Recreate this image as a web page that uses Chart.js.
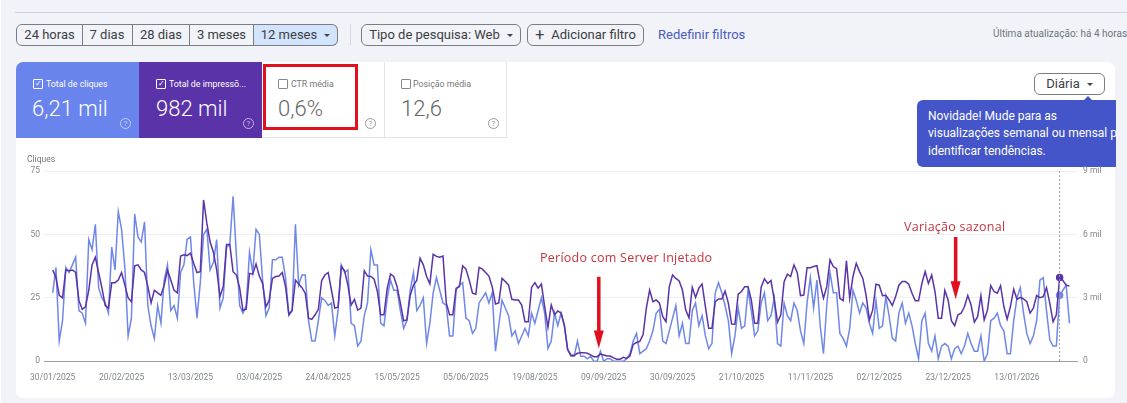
<!DOCTYPE html>
<html lang="pt-BR">
<head>
<meta charset="utf-8">
<title>Desempenho</title>
<script src="https://cdn.jsdelivr.net/npm/chart.js@4"></script>
<style>
  html, body { margin: 0; padding: 0; }
  body { width: 1127px; height: 403px; background: #f1f3f9; position: relative; overflow: hidden; font-family: Roboto, sans-serif; color: #3c4043; }
  .abs { position: absolute; white-space: nowrap; }
  .topline { left: 15px; right: 0; top: 12px; height: 1px; background: #cfd2d8; }
  .btn { top: 24px; height: 20px; line-height: 20px; border: 1px solid #7a7d82; text-align: center; font-size: 13px; box-sizing: content-box; }
  .caret { display: inline-block; width: 0; height: 0; border-left: 3px solid transparent; border-right: 3px solid transparent; border-top: 3px solid #444; margin-left: 7px; vertical-align: 2px; }
  .card { left: 16px; top: 62px; width: 1099px; height: 336px; background: #fff; border-radius: 7px; }
  .tab { top: 62px; width: 123px; height: 76px; box-sizing: border-box; }
  .tab-label { font-size: 8.8px; top: 79px; }
  .tab-value { font-size: 22px; top: 96px; font-weight: 300; }
  .box { top: 79px; width: 8px; height: 8px; border: 1px solid #888; border-radius: 1px; font-size: 8px; line-height: 8px; text-align: center; }
  .help { top: 118px; width: 9px; height: 9px; border: 1px solid #999; border-radius: 50%; font-size: 8px; line-height: 9px; text-align: center; color: #999; }
  .note { color: #c5343d; font-family: "Open Sans", sans-serif; font-size: 12.5px; letter-spacing: .25px; }
  .tip-line { font-size: 12px; color: #fff; line-height: 17px; }
  canvas { position: absolute; left: 16px; top: 150px; }
</style>
</head>
<body>
<div class="abs" style="left:0;top:0;width:1px;height:403px;background:#fff"></div>
<div class="abs topline"></div>

<div class="abs btn" style="left:16px;width:65px;border-radius:6px 0 0 6px">24 horas</div>
<div class="abs btn" style="left:82px;width:50px;border-left:0">7 dias</div>
<div class="abs btn" style="left:133px;width:56px;border-left:0">28 dias</div>
<div class="abs btn" style="left:190px;width:63px;border-left:0">3 meses</div>
<div class="abs btn" style="left:254px;width:83px;border-left:0;border-radius:0 6px 6px 0;background:#d2e3fc">12 meses<span class="caret"></span></div>
<div class="abs" style="left:350px;top:24px;width:1px;height:21px;background:#d5d7dc"></div>
<div class="abs btn" style="left:361px;width:158px;border-radius:6px">Tipo de pesquisa: Web<span class="caret"></span></div>
<div class="abs btn" style="left:527px;width:115px;border-radius:6px"><span style="font-size:16px;vertical-align:-1px;margin-right:7px">+</span>Adicionar filtro</div>
<div class="abs" style="left:658px;top:27px;font-size:13px;color:#4a5bc0">Redefinir filtros</div>
<div class="abs" style="left:993px;top:28px;font-size:10px;color:#70757a">Última atualização: há 4 horas</div>

<div class="abs card"></div>
<div class="abs tab" style="left:16px;background:#6a84ee;border-radius:7px 0 0 0"></div>
<div class="abs tab" style="left:139px;background:#5a33a9"></div>
<div class="abs tab" style="left:262px;border-right:1px solid #e3e4e8;border-bottom:1px solid #e3e4e8"></div>
<div class="abs tab" style="left:385px;width:122px;border-right:1px solid #e3e4e8;border-bottom:1px solid #e3e4e8"></div>

<div class="abs box" style="left:33px;color:#fff;border-color:#fff">✓</div>
<div class="abs tab-label" style="left:46px;color:#fff">Total de cliques</div>
<div class="abs tab-value" style="left:32px;color:#fff">6,21 mil</div>
<div class="abs help" style="left:120px;color:#c4cef7;border-color:#c4cef7">?</div>

<div class="abs box" style="left:156px;color:#fff;border-color:#fff">✓</div>
<div class="abs tab-label" style="left:169px;color:#fff">Total de impressõ...</div>
<div class="abs tab-value" style="left:156px;color:#fff">982 mil</div>
<div class="abs help" style="left:243px;color:#c4b4e6;border-color:#c4b4e6">?</div>

<div class="abs box" style="left:278px"></div>
<div class="abs tab-label" style="left:291px;color:#777">CTR média</div>
<div class="abs tab-value" style="left:278px;color:#666">0,6%</div>
<div class="abs help" style="left:365px">?</div>

<div class="abs box" style="left:401px"></div>
<div class="abs tab-label" style="left:413px;color:#777">Posição média</div>
<div class="abs tab-value" style="left:401px;color:#666">12,6</div>
<div class="abs help" style="left:488px">?</div>

<div class="abs" style="left:263px;top:64px;width:89px;height:60px;border:3px solid #e0101f"></div>

<div class="abs btn" style="left:1034px;top:73px;width:69px;border-radius:6px;background:#fff">Diária<span class="caret"></span></div>
<div class="abs" style="left:1084px;top:96px;width:0;height:0;border-left:4px solid transparent;border-right:4px solid transparent;border-bottom:4px solid #4355c8"></div>
<div class="abs" style="left:917px;top:100px;width:199px;height:67px;background:#4355c8;border-radius:6px 0 0 6px;overflow:hidden">
  <div class="abs tip-line" style="left:11px;top:8px">Novidade! Mude para as</div>
  <div class="abs tip-line" style="left:11px;top:25px">visualizações semanal ou mensal para</div>
  <div class="abs tip-line" style="left:11px;top:43px">identificar tendências.</div>
</div>

<canvas id="chart" width="1099" height="240" style="width:1099px;height:240px"></canvas>
<div class="abs" style="left:27px;top:154px;font-size:8.5px;color:#777">Cliques</div>
<div class="abs note" style="left:540px;top:249px">Período com Server Injetado</div>
<div class="abs note" style="left:904px;top:218px">Variação sazonal</div>

<script>
// x tick labels, one every 21 points (the dates jump between 05/06 and 19/08)
const tickLabels = ['30/01/2025', '20/02/2025', '13/03/2025', '03/04/2025', '24/04/2025', '15/05/2025', '05/06/2025',
  '19/08/2025', '09/09/2025', '30/09/2025', '21/10/2025', '11/11/2025', '02/12/2025', '23/12/2025', '13/01/2026'];
const tickEvery = 21;

const cliques = [
  27, 37, 8, 16, 37, 35, 38, 41, 20, 19, 15, 48, 44, 54, 29, 25, 23, 19, 45, 36,
  59, 52, 37, 10, 17, 58, 49, 47, 55, 22, 14, 9, 22, 15, 32, 38, 20, 22, 17, 35,
  38, 48, 49, 31, 17, 31, 50, 52, 36, 39, 48, 21, 25, 45, 46, 65, 42, 22, 19, 22,
  43, 35, 52, 50, 32, 18, 21, 40, 40, 41, 41, 33, 18, 20, 54, 30, 34, 34, 16, 8,
  8, 16, 25, 24, 22, 23, 10, 20, 38, 35, 36, 15, 14, 6, 8, 18, 23, 44, 38, 38,
  15, 14, 25, 32, 28, 28, 20, 13, 16, 28, 35, 20, 22, 25, 7, 15, 27, 33, 28, 23,
  22, 10, 10, 28, 30, 31, 17, 16, 11, 13, 23, 25, 27, 23, 27, 4, 14, 24, 21, 18,
  10, 12, 7, 10, 13, 10, 19, 15, 20, 25, 19, 5, 8, 19, 14, 19, 14, 4.5, 2, 2,
  8, 2, 2, 1, 2, 0, 0, 4, 0, 1, 1, 0, 0, 0, 0, 1, 3, 8, 11, 3,
  4, 5, 8, 12, 19, 20.5, 8, 7, 12, 17, 22, 10, 15, 7, 7, 20, 23, 14, 18, 10,
  5, 7, 27, 31, 27, 22, 16, 3, 10, 21, 13, 14, 28, 20, 10, 12, 23, 27, 16, 18,
  25, 7, 6, 23, 18, 16, 23, 20, 12, 7, 23, 33, 21, 32, 14, 3, 22, 35, 27, 27,
  11, 9, 6, 13, 28, 24, 19, 23, 21, 15, 11, 24, 13, 14, 25.5, 18, 9, 8, 19, 23,
  15, 19, 14, 7, 1, 16, 19, 7, 4, 10, 1, 6, 7, 6, 1, 5, 6, 3, 6, 11,
  7, 4, 4, 10, 0, 3, 16, 17, 19, 14, 12, 3, 3, 16, 25, 29, 19, 11, 7, 10,
  16, 32, 33, 20, 8.5, 6, 6, 26, 28, 30, 15
];

const impressoes = [
  4320, 3960, 3120, 3000, 4320, 4280, 4320, 4200, 2880, 2460, 2580, 3360, 4560, 4920, 4200, 3480, 2640, 2520, 3720, 3720,
  3840, 4200, 3600, 3000, 2820, 4520, 4560, 4320, 4200, 3540, 2760, 3360, 3240, 3120, 3600, 4320, 3840, 3360, 3240, 4980,
  5040, 5000, 5110, 4630, 4200, 4240, 7630, 6530, 5640, 5160, 4320, 3060, 3540, 5520, 5520, 4240, 4080, 3480, 2400, 2460,
  4160, 4120, 4610, 4030, 3680, 2580, 2880, 3920, 4010, 4030, 4200, 3530, 2220, 2400, 3840, 3660, 3480, 3220, 2040, 1980,
  2200, 2460, 3820, 4080, 4200, 3360, 2520, 2560, 4480, 4280, 3600, 2660, 2930, 2420, 2520, 4280, 4030, 4010, 3880, 3300,
  2200, 2200, 3460, 4130, 4010, 3530, 2760, 1920, 1960, 3120, 3600, 3820, 4870, 4560, 4010, 3660, 5060, 4960, 4920, 4980,
  2760, 2200, 2200, 3460, 3530, 4520, 4360, 3840, 3220, 3170, 4440, 4360, 4200, 4030, 3530, 2710, 2760, 3920, 3770, 3600,
  2930, 2900, 2900, 2660, 1870, 1870, 3480, 3720, 3460, 3650, 2590, 1610, 2660, 2200, 2380, 2280, 1720, 560, 300, 280,
  380, 410, 410, 380, 300, 220, 220, 340, 300, 250, 250, 160, 100, 100, 190, 140, 250, 800, 890, 940,
  1250, 2520, 3370, 2820, 2900, 2750, 2110, 1870, 3530, 4080, 3920, 3800, 3370, 2420, 2060, 3500, 3020, 3460, 3650, 2590,
  1560, 1560, 2820, 2950, 2950, 3320, 2750, 1760, 1750, 3180, 3300, 3530, 3530, 2900, 1800, 1800, 3500, 3900, 3680, 3820,
  2900, 1850, 2200, 3770, 4120, 4010, 4560, 4200, 3110, 3130, 4430, 4430, 4480, 4520, 3680, 2980, 3530, 4800, 4480, 4380,
  2980, 2870, 4750, 2980, 4010, 4630, 4240, 3920, 3120, 1960, 2420, 3650, 3600, 3100, 3120, 2900, 2640, 3060, 3600, 3770,
  3770, 3650, 3220, 2860, 2860, 3680, 4240, 3680, 4080, 3300, 2040, 2040, 3350, 2900, 1920, 1680, 2200, 2280, 2590, 3110,
  2660, 1850, 2110, 3110, 1960, 2420, 3580, 3300, 3220, 3580, 2590, 1990, 2590, 3410, 2930, 3020, 2950, 2820, 2280, 2510,
  3110, 3010, 3060, 3480, 2750, 1870, 2200, 3960, 3820, 3600, 3560
];

const hoverIndex = 307;

// hover line and the two red arrows, placed through the chart's scales
const overlays = {
  id: 'overlays',
  afterDatasetsDraw(chart) {
    const { ctx, scales: { x, y } } = chart;
    ctx.save();
    ctx.strokeStyle = '#9aa0a6';
    ctx.lineWidth = 1;
    ctx.setLineDash([2, 2]);
    ctx.beginPath();
    ctx.moveTo(x.getPixelForValue(hoverIndex), y.top);
    ctx.lineTo(x.getPixelForValue(hoverIndex), y.bottom);
    ctx.stroke();
    ctx.restore();

    const arrow = (idx, from, to) => {
      const px = x.getPixelForValue(idx);
      const top = y.getPixelForValue(from);
      const tip = y.getPixelForValue(to);
      ctx.save();
      ctx.strokeStyle = ctx.fillStyle = '#e0101f';
      ctx.lineWidth = 3.5;
      ctx.beginPath();
      ctx.moveTo(px, top);
      ctx.lineTo(px, tip - 12);
      ctx.stroke();
      ctx.beginPath();
      ctx.moveTo(px - 5, tip - 18);
      ctx.lineTo(px + 5, tip - 18);
      ctx.lineTo(px, tip);
      ctx.closePath();
      ctx.fill();
      ctx.restore();
    };
    arrow(166.5, 33.3, 5);
    arrow(275.3, 49, 24.5);
  }
};

const toPoints = values => values.map((v, i) => ({ x: i, y: v }));
const hoverRadius = c => (c.dataIndex === hoverIndex ? 3 : 0);

new Chart(document.getElementById('chart'), {
  type: 'line',
  data: {
    datasets: [
      {
        label: 'Impressões',
        data: toPoints(impressoes),
        yAxisID: 'y1',
        borderColor: '#5a33a9',
        backgroundColor: '#5a33a9',
        borderWidth: 1.5,
        pointRadius: hoverRadius,
        tension: 0,
        order: 1
      },
      {
        label: 'Cliques',
        data: toPoints(cliques),
        yAxisID: 'y',
        borderColor: '#6f88e8',
        backgroundColor: '#6f88e8',
        borderWidth: 1.5,
        pointRadius: hoverRadius,
        tension: 0,
        order: 2
      }
    ]
  },
  plugins: [overlays],
  options: {
    responsive: false,
    animation: false,
    layout: { padding: { top: 21, left: 0, right: 0, bottom: 0 } },
    plugins: { legend: { display: false }, tooltip: { enabled: false } },
    scales: {
      x: {
        type: 'linear',
        min: -2.65,
        max: 312.3,
        grid: { display: false },
        border: { color: '#9a9ca0' },
        afterBuildTicks(axis) {
          axis.ticks = tickLabels.map((_, i) => ({ value: i * tickEvery }));
        },
        afterFit(axis) { axis.height = 28.7; },
        ticks: {
          autoSkip: false,
          maxRotation: 0,
          padding: 3,
          color: '#80868b',
          font: { family: 'Roboto', size: 8.5 },
          callback: v => tickLabels[v / tickEvery]
        }
      },
      y: {
        position: 'left',
        min: 0,
        max: 75,
        afterFit(axis) { axis.width = 28; },
        grid: { color: '#eceef1', drawTicks: false },
        border: { display: false },
        ticks: { stepSize: 25, padding: 4, color: '#80868b', font: { family: 'Roboto', size: 8.5 } }
      },
      y1: {
        position: 'right',
        min: 0,
        max: 9000,
        afterFit(axis) { axis.width = 38; },
        grid: { display: false, drawTicks: false },
        border: { display: false },
        ticks: {
          stepSize: 3000,
          padding: 6,
          color: '#80868b',
          font: { family: 'Roboto', size: 8.5 },
          callback: v => (v === 0 ? '0' : (v / 1000) + ' mil')
        }
      }
    }
  }
});
</script>
</body>
</html>
